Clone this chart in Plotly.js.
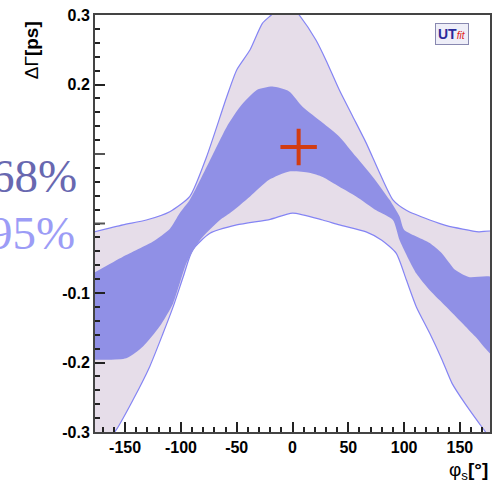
<!DOCTYPE html>
<html>
<head>
<meta charset="utf-8">
<script src="https://cdn.plot.ly/plotly-3.0.1.min.js"></script>
<style>html,body{margin:0;padding:0;background:#fff;}#chart{width:495px;height:490px;}</style>
</head>
<body>
<div id="chart"></div>
<script>
// 95% band boundaries
const outerUpperX = [-180, -152, -131, -110, -92, -77, -59, -50, -38, -27, -19, -5, 6, 21, 30, 42, 54, 66, 78, 90, 102, 123, 138, 167, 180];
const outerUpperY = [-0.013, -0.002, 0.005, 0.017, 0.039, 0.096, 0.182, 0.221, 0.25, 0.288, 0.30, 0.32, 0.30, 0.264, 0.235, 0.192, 0.154, 0.116, 0.073, 0.034, 0.019, 0.005, -0.003, -0.012, -0.012];
const outerLowerX = [-180, -158, -143, -128, -116, -107, -98, -89.5, -74, -50, -20, 0, 27, 42, 66, 80, 93, 102, 111, 123, 134, 143, 155, 167, 173, 180];
const outerLowerY = [-0.34, -0.297, -0.254, -0.206, -0.158, -0.12, -0.077, -0.038, -0.014, -0.002, 0.006, 0.015, 0.005, -0.002, -0.012, -0.024, -0.043, -0.081, -0.12, -0.158, -0.196, -0.23, -0.26, -0.287, -0.30, -0.32];
// 68% band boundaries
const innerUpperX = [-180, -152, -125, -110, -101, -92, -74, -59, -47, -32, -18, -3, 9, 27, 42, 57, 72, 87, 96, 100, 123, 134, 146, 158, 180];
const innerUpperY = [-0.073, -0.048, -0.026, -0.008, 0.015, 0.034, 0.091, 0.139, 0.168, 0.192, 0.197, 0.19, 0.168, 0.145, 0.125, 0.096, 0.067, 0.034, 0.01, -0.009, -0.028, -0.043, -0.067, -0.077, -0.078];
const innerLowerX = [-180, -149, -134, -119, -107, -95, -83, -65, -56, -38, -21, -3, 15, 27, 42, 57, 75, 90, 96, 111, 123, 138, 152, 164, 180];
const innerLowerY = [-0.196, -0.194, -0.177, -0.148, -0.115, -0.057, -0.024, 0.005, 0.015, 0.039, 0.063, 0.075, 0.073, 0.067, 0.053, 0.039, 0.019, 0.005, -0.024, -0.072, -0.096, -0.12, -0.143, -0.163, -0.19];
// measured point
const pointX = [5.5];
const pointY = [0.11];
// ticks
const yTickVals = [-0.3, -0.2, -0.1, 0.2, 0.3];
const yTickText = ['-0.3', '-0.2', '-0.1', '0.2', '0.3'];
const yHiddenTicks = [0, 0.1];
const xTickVals = [-150, -100, -50, 0, 50, 100, 150];
const xTickText = ['-150', '-100', '-50', '0', '50', '100', '150'];
const legendLabels = ['68%', '95%'];

function band(ux, uy, lx, ly) {
  return {x: ux.concat(lx.slice().reverse()), y: uy.concat(ly.slice().reverse())};
}
const b95 = band(outerUpperX, outerUpperY, outerLowerX, outerLowerY);
const b68 = band(innerUpperX, innerUpperY, innerLowerX, innerLowerY);

const traces = [
  {x: b95.x, y: b95.y, type: 'scatter', mode: 'lines', fill: 'toself',
   fillcolor: '#e6dde9', line: {color: '#8484f4', width: 1.2, shape: 'spline', smoothing: 0.6}, hoverinfo: 'skip'},
  {x: b68.x, y: b68.y, type: 'scatter', mode: 'lines', fill: 'toself',
   fillcolor: '#9090e6', line: {color: '#9090e6', width: 0, shape: 'spline', smoothing: 0.6}, hoverinfo: 'skip'},
  {x: pointX, y: pointY, type: 'scatter', mode: 'markers',
   marker: {symbol: 'cross-thin', size: 26, color: '#d23c12', line: {color: '#d23c12', width: 4}}}
];

const tickFont = {family: 'Liberation Sans, Arial, sans-serif', size: 16, color: '#000', weight: 'bold'};

const shapes = yHiddenTicks.map(v => ({
  type: 'line', xref: 'paper', yref: 'y', x0: 0, x1: 10 / 395, y0: v, y1: v,
  line: {color: '#555', width: 2}
}));

const layout = {
  width: 495, height: 490,
  margin: {l: 95, r: 5, t: 15, b: 58},
  paper_bgcolor: '#fff', plot_bgcolor: '#fff',
  showlegend: false,
  shapes: shapes,
  xaxis: {
    range: [-177, 177], tickvals: xTickVals, ticktext: xTickText,
    ticks: 'inside', ticklen: 10, tickwidth: 2, tickcolor: '#222',
    minor: {dtick: 10, ticks: 'inside', ticklen: 5, tickwidth: 2, tickcolor: '#222'},
    showgrid: false, zeroline: false, showline: true, mirror: true,
    linecolor: '#444', linewidth: 2, tickfont: tickFont
  },
  yaxis: {
    range: [-0.3, 0.3], tickvals: yTickVals, ticktext: yTickText,
    ticks: 'inside', ticklen: 10, tickwidth: 2, tickcolor: '#222',
    minor: {dtick: 0.02, ticks: 'inside', ticklen: 5, tickwidth: 2, tickcolor: '#222'},
    showgrid: false, zeroline: false, showline: true, mirror: true,
    linecolor: '#444', linewidth: 2, tickfont: tickFont, ticklabelstandoff: 0
  },
  annotations: [
    {xref: 'paper', yref: 'paper', x: -0.16, y: 0.915, xanchor: 'center', yanchor: 'middle',
     text: 'ΔΓ<b>[ps]</b>', textangle: -90, showarrow: false,
     font: {family: 'Liberation Sans, Arial, sans-serif', size: 19, color: '#000'}},
    {xref: 'paper', yref: 'paper', x: 1.0, y: -0.06, xanchor: 'right', yanchor: 'top',
     text: 'φ<sub>s</sub><b>[°]</b>', showarrow: false,
     font: {family: 'Liberation Sans, Arial, sans-serif', size: 19, color: '#000'}},
    {xref: 'paper', yref: 'paper', x: -0.04, y: 0.615, xanchor: 'right', yanchor: 'middle',
     text: legendLabels[0], showarrow: false,
     font: {family: 'Liberation Serif, Times New Roman, serif', size: 47, color: '#6868b0'}},
    {xref: 'paper', yref: 'paper', x: -0.045, y: 0.478, xanchor: 'right', yanchor: 'middle',
     text: legendLabels[1], showarrow: false,
     font: {family: 'Liberation Serif, Times New Roman, serif', size: 47, color: '#9c9cf6'}},
    {xref: 'paper', yref: 'paper', x: 0.905, y: 0.955, xanchor: 'center', yanchor: 'middle',
     text: '<b><span style="color:#2a2a9a">UT</span></b><i><span style="color:#e02020;font-size:10px">fit</span></i>',
     showarrow: false, bgcolor: '#eeeef8', bordercolor: '#8888b0', borderwidth: 1, borderpad: 2,
     font: {family: 'Liberation Sans, Arial, sans-serif', size: 14}}
  ]
};

Plotly.newPlot('chart', traces, layout, {displayModeBar: false, staticPlot: true});
</script>
</body>
</html>
